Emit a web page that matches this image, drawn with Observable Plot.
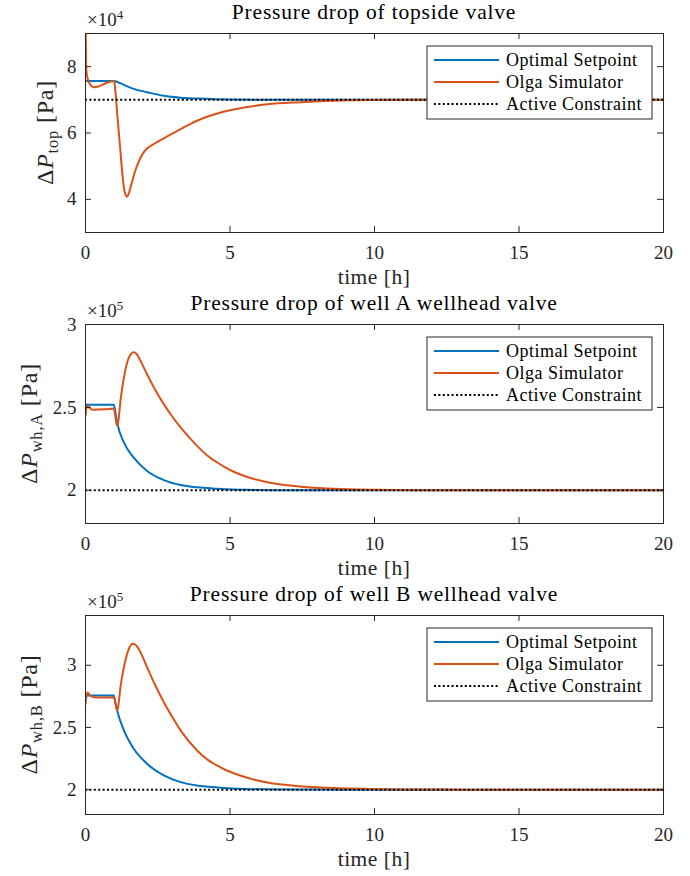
<!DOCTYPE html>
<html><head><meta charset="utf-8">
<script src="https://cdn.jsdelivr.net/npm/d3@7"></script>
<script src="https://cdn.jsdelivr.net/npm/@observablehq/plot@0.6"></script>
<style>
body{margin:0;background:#fff;}
#chart svg{display:block;}
#chart svg, #chart svg text, #chart svg tspan{font-family:"Liberation Serif","Times New Roman",serif !important;}
</style></head><body><div id="chart"></div>
<script>
// ---------- data (time in h, pressure drop in Pa) ----------
const xTicks = [0, 5, 10, 15, 20];
const seriesNames = ["Optimal Setpoint", "Olga Simulator", "Active Constraint"];
const seriesColors = ["#0072BD", "#D95319", "#000000"];

const titles = [
  "Pressure drop of topside valve",
  "Pressure drop of well A wellhead valve",
  "Pressure drop of well B wellhead valve"
];
const ySubscripts = ["top", "wh,A", "wh,B"];
const yExponents = [4, 5, 5];
const yDomains = [[30000, 90000], [180000, 300000], [180000, 340000]];
const yTickValues = [[40000, 60000, 80000], [200000, 250000, 300000], [200000, 250000, 300000]];
const constraintValues = [70000, 200000, 200000];

const topOptimal = [[0,75700],[0.98,75700],[1.15,75200],[1.33,74500],[1.67,73300],[2.13,72300],[2.71,71200],[3.29,70650],[3.86,70380],[4.5,70180],[5,70080],[6,70020],[8,70000],[20,70000]];
const topOlga = [[0,95000],[0.03,79000],[0.07,76500],[0.15,74800],[0.29,73800],[0.45,74000],[0.7,75000],[0.97,75700],[1.0,75300],[1.03,73000],[1.1,65500],[1.2,55400],[1.3,45600],[1.37,41800],[1.44,40800],[1.5,41800],[1.58,44300],[1.7,48000],[1.85,51500],[2.0,54000],[2.1,55100],[2.2,55800],[2.4,56900],[2.71,58400],[3.0,59800],[3.29,61200],[3.6,62600],[3.86,63700],[4.2,64900],[4.56,65900],[5.13,67100],[6.29,68650],[7.44,69300],[8.6,69750],[10,69930],[12,70000],[20,70000]];

const wellAOptimal = [[0,251600],[0.98,251600],[1.04,246500],[1.1,240500],[1.33,228800],[1.67,219700],[2.13,211700],[2.71,206200],[3.29,203200],[3.86,201800],[4.56,201000],[5.5,200300],[7,200000],[20,200000]];
const wellAOlga = [[0,245000],[0.03,249500],[0.07,251000],[0.15,249500],[0.25,248600],[0.5,248800],[0.8,249000],[0.98,249400],[1.02,246000],[1.07,240500],[1.1,238900],[1.14,242000],[1.21,254000],[1.33,268000],[1.5,280000],[1.67,283200],[1.78,282000],[1.9,278200],[2.13,270000],[2.4,261000],[2.71,252000],[3.0,244500],[3.29,237900],[3.86,226800],[4.2,221200],[4.56,216800],[4.85,213700],[5.13,211200],[5.6,208000],[6.29,204900],[7.44,202200],[8.6,200950],[10,200350],[12,200050],[20,200000]];

const wellBOptimal = [[0,275700],[0.98,275700],[1.03,270500],[1.08,265000],[1.33,247600],[1.67,232800],[2.13,220800],[2.71,211400],[3.29,206000],[3.86,203300],[4.56,201800],[5.5,200600],[7,200100],[9,200000],[20,200000]];
const wellBOlga = [[0,269000],[0.03,275000],[0.07,278000],[0.15,276000],[0.29,274300],[0.6,274000],[0.98,274200],[1.03,270000],[1.1,263600],[1.15,270000],[1.21,282400],[1.33,298500],[1.5,313200],[1.64,317200],[1.75,316000],[1.9,310500],[2.13,298500],[2.4,284500],[2.71,270300],[3.0,258500],[3.29,247600],[3.86,231500],[4.2,224500],[4.56,219200],[4.85,215800],[5.13,213200],[5.6,209500],[6.29,205700],[7.44,202700],[8.6,201300],[9.76,200600],[11,200200],[13,200000],[20,200000]];

const optimalSeries = [topOptimal, wellAOptimal, wellBOptimal];
const olgaSeries = [topOlga, wellAOlga, wellBOlga];
const panelHeights = [291, 291, 294];

// ---------- drawing ----------
const FONT = "Liberation Serif";
const INK = "#262626";
const mTop = 33, mLeft = 85, mRight = 27, W = 690, plotH = 199;
const plotW = W - mLeft - mRight;
const TICK = 6;
const ylabelX = [53, 37, 37];

function panel(i) {
  const H = panelHeights[i];
  const exp = 10 ** yExponents[i];
  const chart = Plot.plot({
    width: W, height: H,
    marginTop: mTop, marginBottom: H - mTop - plotH, marginLeft: mLeft, marginRight: mRight,
    x: {domain: [0, 20]},
    y: {domain: yDomains[i]},
    style: {fontFamily: FONT, fontSize: "19px", color: INK, background: "white", overflow: "visible"},
    marks: [
      Plot.line(optimalSeries[i], {x: d => d[0], y: d => d[1], stroke: seriesColors[0], strokeWidth: 2, curve: "monotone-x", clip: true}),
      Plot.line(olgaSeries[i], {x: d => d[0], y: d => d[1], stroke: seriesColors[1], strokeWidth: 2, curve: "monotone-x", clip: true}),
      Plot.ruleY([constraintValues[i]], {stroke: seriesColors[2], strokeWidth: 2, strokeDasharray: "2,2.4"}),
      // inward ticks on all four sides
      Plot.tickX(xTicks, {x: d => d, stroke: INK, strokeWidth: 1, insetTop: plotH - TICK}),
      Plot.tickX(xTicks, {x: d => d, stroke: INK, strokeWidth: 1, insetBottom: plotH - TICK}),
      Plot.tickY(yTickValues[i], {y: d => d, stroke: INK, strokeWidth: 1, insetRight: plotW - TICK}),
      Plot.tickY(yTickValues[i], {y: d => d, stroke: INK, strokeWidth: 1, insetLeft: plotW - TICK}),
      Plot.frame({stroke: INK, strokeWidth: 1}),
      Plot.axisX({anchor: "bottom", ticks: xTicks, tickSize: 0, tickPadding: 13, label: null}),
      Plot.axisY({anchor: "left", ticks: yTickValues[i], tickSize: 0, tickPadding: 9, tickFormat: d => String(d / exp), label: null})
    ]
  });
  const svg = d3.select(chart);
  const cx = mLeft + plotW / 2;
  const cy = mTop + plotH / 2;

  // title
  svg.append("text").attr("x", cx).attr("y", mTop - 14).attr("text-anchor", "middle")
    .style("font-size", "21.5px").style("letter-spacing", "0.8px").attr("fill", "#000").text(titles[i]);

  // exponent label
  const ex = svg.append("text").attr("x", mLeft + 2).attr("y", mTop - 7).attr("text-anchor", "start")
    .attr("fill", INK).style("font-size", "19px");
  ex.append("tspan").text("×10");
  ex.append("tspan").attr("dy", -7).style("font-size", "13px").text(String(yExponents[i]));

  // x label
  svg.append("text").attr("x", cx).attr("y", mTop + plotH + 52).attr("text-anchor", "middle")
    .style("font-size", "21.5px").style("letter-spacing", "0.5px").attr("fill", INK).text("time [h]");

  // y label
  const yl = svg.append("text").attr("transform", `translate(${ylabelX[i]},${cy}) rotate(-90)`)
    .attr("text-anchor", "middle").attr("fill", INK).style("font-size", "24px").style("letter-spacing", "0.8px");
  yl.append("tspan").text("Δ");
  yl.append("tspan").style("font-style", "italic").text("P");
  yl.append("tspan").attr("dy", 5).style("font-size", "16.5px").text(ySubscripts[i]);
  yl.append("tspan").attr("dy", -5).text("\u00a0[Pa]");

  // legend
  const lg = svg.append("g").attr("transform", `translate(427,${mTop + 13})`);
  lg.append("rect").attr("width", 225).attr("height", 73).attr("fill", "white").attr("stroke", INK).attr("stroke-width", 1);
  seriesNames.forEach((name, k) => {
    const yy = 14 + k * 22;
    lg.append("line").attr("x1", 7).attr("x2", 72).attr("y1", yy).attr("y2", yy)
      .attr("stroke", seriesColors[k]).attr("stroke-width", 2)
      .attr("stroke-dasharray", k === 2 ? "2,2.4" : null);
    lg.append("text").attr("x", 79).attr("y", yy).attr("dy", "0.33em").attr("text-anchor", "start").attr("fill", "#000")
      .style("font-size", "18px").style("letter-spacing", "0.5px").text(name);
  });
  return chart;
}

const root = document.getElementById("chart");
[0, 1, 2].forEach(i => root.appendChild(panel(i)));
</script>
</body></html>
